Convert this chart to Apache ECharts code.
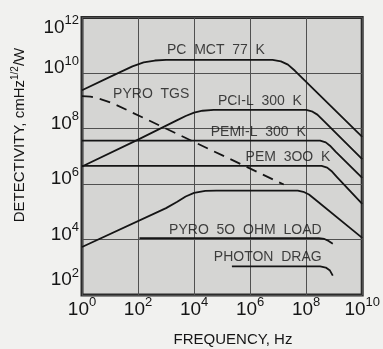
<!DOCTYPE html>
<html>
<head>
<meta charset="UTF-8" />
<title></title>
<style type="text/css">
  * { margin: 0; padding: 0; }
  body { background-color: #f1f1ef; }
  #main { width: 383px; height: 349px; }
</style>
</head>
<body>
<div id="main"></div>
<script src="https://cdn.jsdelivr.net/npm/echarts@6/dist/echarts.min.js"></script>
<script type="text/javascript">
// points are [log10(frequency Hz), log10(detectivity)]
var xTicks = [0, 2, 4, 6, 8, 10]
var yTicks = [2, 4, 6, 8, 10, 12]

var pcMct77 = [[0, 9.38], [1, 9.86], [1.8, 10.24], [2.2, 10.38], [2.6, 10.45], [3.0, 10.47], [6.8, 10.47], [7.1, 10.42], [7.35, 10.3], [7.6, 10.08], [10, 7.7]]
var pyroTgs = [[0, 9.17], [0.3, 9.15], [0.6, 9.08], [0.9, 8.98], [1.2, 8.86], [7.2, 5.98]]
var pciL300 = [[0, 6.63], [2, 7.6], [3.4, 8.3], [3.7, 8.45], [4.0, 8.57], [4.3, 8.64], [4.7, 8.67], [8.0, 8.67], [8.2, 8.62], [8.4, 8.5], [8.6, 8.3], [10, 6.9]]
var pemiL300 = [[0, 7.56], [8.5, 7.56], [8.7, 7.5], [8.85, 7.38], [9.05, 7.17], [10, 6.22]]
var pem300 = [[0, 6.65], [8.55, 6.65], [8.75, 6.59], [8.9, 6.47], [9.1, 6.25], [10, 5.28]]
var pyroLow = [[0, 3.73], [3, 5.13], [3.4, 5.36], [3.7, 5.55], [4.0, 5.68], [4.4, 5.75], [4.8, 5.76], [7.7, 5.76], [7.9, 5.72], [8.1, 5.62], [8.3, 5.46], [10, 4.06]]
var pyro50 = [[2.05, 4.05], [8.45, 4.05], [8.65, 4.02], [8.8, 3.95], [8.95, 3.85]]
var photonDrag = [[5.35, 3.03], [8.5, 3.03], [8.7, 2.99], [8.85, 2.88], [8.95, 2.7]]

// curve captions: [x, y, text]
var captions = [
  [4.78, 10.81, 'PC  MCT  77  K'],
  [2.47, 9.23, 'PYRO  TGS'],
  [6.35, 8.99, 'PCI-L  300  K'],
  [6.29, 7.88, 'PEMI-L  300  K'],
  [7.35, 6.98, 'PEM  3OO  K'],
  [5.83, 4.35, 'PYRO  5O  OHM  LOAD'],
  [6.63, 3.35, 'PHOTON  DRAG']
]

var ink = '#151515'
var font = '"Liberation Sans", Arial, sans-serif'

function curve(data, dashed) {
  return {
    type: 'line',
    data: data,
    showSymbol: false,
    silent: true,
    lineStyle: { color: ink, width: 1.8, type: dashed ? [11, 7] : 'solid', join: 'round' }
  }
}

var powRich = {
  b: { fontSize: 19, fontFamily: font, color: ink },
  s: { fontSize: 13, fontFamily: font, color: ink, padding: [0, 0, 14, 0] },
  g: { fontSize: 8, lineHeight: 10 },
  g2: { fontSize: 8, lineHeight: 20 },
  g3: { fontSize: 8, lineHeight: 30 }
}

var myChart = echarts.init(document.getElementById('main'))
var option = {
  animation: false,
  grid: {
    left: 82, right: 10, top: 11, bottom: 54,
    show: true,
    backgroundColor: '#d5d5d3',
    borderColor: '#2a2a2a',
    borderWidth: 3
  },
  xAxis: {
    type: 'value',
    min: xTicks[0], max: xTicks[xTicks.length - 1], interval: 2,
    axisLine: { show: false },
    axisTick: { show: false },
    splitLine: { lineStyle: { color: '#505050', width: 1 } },
    axisLabel: {
      margin: 1,
      formatter: function (v) { return '{b|10}{s|' + v + '}' },
      rich: powRich
    }
  },
  yAxis: {
    type: 'value',
    min: yTicks[0], max: yTicks[yTicks.length - 1], interval: 2,
    axisLine: { show: false },
    axisTick: { show: false },
    splitLine: { lineStyle: { color: '#505050', width: 1 } },
    axisLabel: {
      margin: 3,
      formatter: function (v) {
        var s = '{b|10}{s|' + v + '}'
        if (v === 12) return '{g2| }\n' + s
        if (v === 2) return s + '\n{g3| }'
        return s + '\n{g| }'
      },
      rich: powRich
    }
  },
  graphic: [
    {
      type: 'text',
      x: 20, y: 135,
      rotation: Math.PI / 2,
      style: {
        text: '{t|DETECTIVITY, cmHz}{u|1/2}{t|/W}',
        align: 'center', verticalAlign: 'middle',
        rich: {
          t: { fontSize: 15, fontFamily: font, fill: ink },
          u: { fontSize: 10, fontFamily: font, fill: ink, padding: [0, 0, 10, 0] }
        }
      }
    },
    {
      type: 'text',
      x: 233, y: 340,
      style: {
        text: 'FREQUENCY, Hz',
        font: '15px ' + font,
        fill: ink,
        align: 'center', verticalAlign: 'middle'
      }
    }
  ],
  series: [
    curve(pcMct77),
    curve(pyroTgs, true),
    curve(pciL300),
    curve(pemiL300),
    curve(pem300),
    curve(pyroLow),
    curve(pyro50),
    curve(photonDrag),
    {
      type: 'scatter',
      data: captions,
      symbolSize: 0,
      silent: true,
      label: {
        show: true,
        position: 'inside',
        formatter: function (p) { return p.value[2] },
        fontSize: 14,
        fontFamily: font,
        color: ink
      }
    }
  ]
}
myChart.setOption(option)
</script>
</body>
</html>
